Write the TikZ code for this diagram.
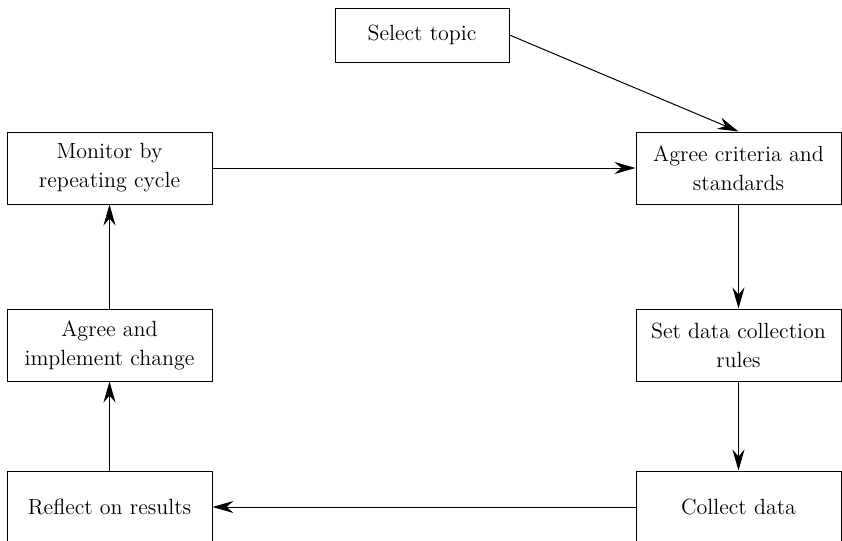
\documentclass[tikz,border=0pt]{standalone}
\usepackage{amsmath}
\usepackage{tikz}
\usetikzlibrary{shapes,arrows.meta}
\tikzstyle{box} = [draw, line width=0.5pt, inner sep=0pt, minimum width=102.5pt, minimum height=36pt, align=center, font=\fontsize{11}{14.5}\selectfont]
\tikzstyle{line} = [draw, line width=0.5pt, -{Stealth[length=10.5pt,width=6pt,inset=3.5pt]}]

\begin{document}
\begin{tikzpicture} [x=0.5pt,y=-0.5pt]

		\useasboundingbox (0,0) rectangle (842,541);

		% right column
		\node [box, minimum width=87pt, minimum height=27pt] (select) at (422,35) {Select topic};
		\node [box] (criteria) at (738.5,168) {Agree criteria and\\standards};
		\node [box] (rules) at (738.5,345) {Set data collection\\rules};
		\node [box] (collect) at (738.5,507) {Collect data};

		% left column
		\node [box] (monitor) at (109.5,168) {Monitor by\\repeating cycle};
		\node [box] (change) at (109.5,345) {Agree and\\implement change};
		\node [box] (reflect) at (109.5,507) {Reflect on results};

		% cycle
		\path [line] (select.east) -- (criteria.north);
		\path [line] (criteria) -- (rules);
		\path [line] (rules) -- (collect);
		\path [line] (collect) -- (reflect);
		\path [line] (reflect) -- (change);
		\path [line] (change) -- (monitor);
		\path [line] (monitor) -- (criteria);

\end{tikzpicture}
\end{document}
